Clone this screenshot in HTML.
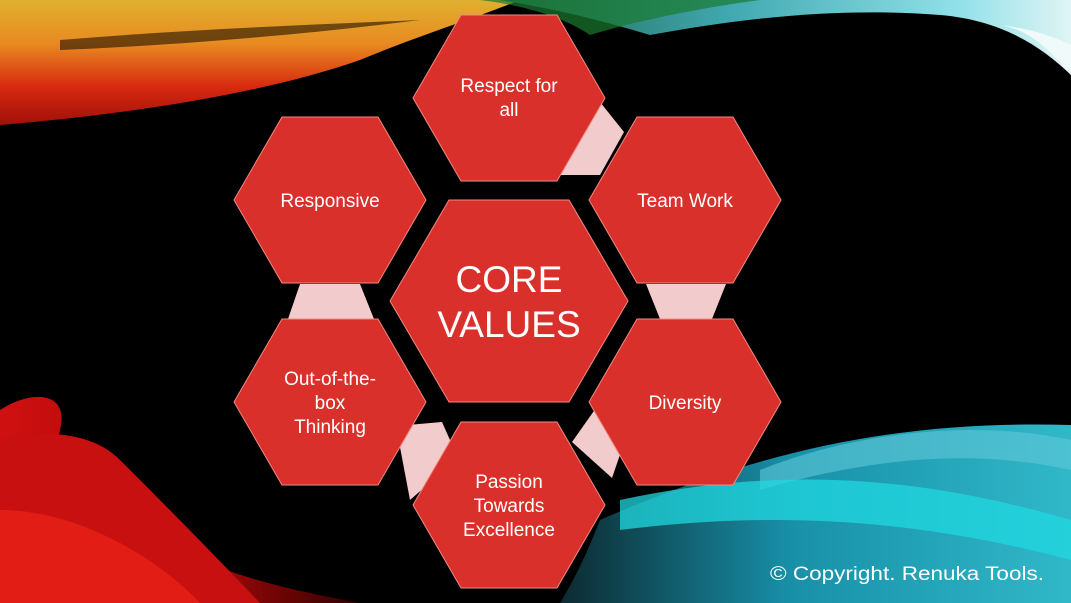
<!DOCTYPE html>
<html><head><meta charset="utf-8">
<style>
html,body{margin:0;padding:0;background:#000;}
svg{display:block;}
text{font-family:"Liberation Sans",sans-serif;fill:#fff;}
</style></head>
<body>
<svg width="1071" height="603" viewBox="0 0 1071 603">
<defs>
<linearGradient id="tl" x1="0" y1="0" x2="0" y2="1">
<stop offset="0" stop-color="#e0b030"/><stop offset="0.35" stop-color="#e88a20"/><stop offset="0.7" stop-color="#d82810"/><stop offset="1" stop-color="#a01008"/>
</linearGradient>
<linearGradient id="tr" x1="0" y1="0" x2="1" y2="0">
<stop offset="0" stop-color="#206048"/><stop offset="0.4" stop-color="#40a8b0"/><stop offset="0.8" stop-color="#90e0e8"/><stop offset="1" stop-color="#e0f4f4"/>
</linearGradient>
<linearGradient id="br" x1="0" y1="0" x2="1" y2="0">
<stop offset="0" stop-color="#0c2a30"/><stop offset="0.45" stop-color="#1890a8"/><stop offset="1" stop-color="#30b8c8"/>
</linearGradient>
<linearGradient id="bl" x1="0" y1="0" x2="1" y2="0">
<stop offset="0" stop-color="#d01010"/><stop offset="0.6" stop-color="#a00808"/><stop offset="1" stop-color="#300000"/>
</linearGradient>
</defs>
<rect width="1071" height="603" fill="#000"/>
<g>
<path d="M0 0 H520 C470 20 420 35 360 60 C260 95 120 115 0 125 Z" fill="url(#tl)"/>
<path d="M60 40 C180 30 300 25 420 20 C300 35 180 45 60 50 Z" fill="#201000" opacity="0.6"/>
<path d="M500 0 H1071 V75 C1040 45 1000 20 940 15 C850 8 760 15 650 35 C600 20 560 10 500 0 Z" fill="url(#tr)"/>
<path d="M480 0 H760 C700 8 640 20 590 35 C560 15 520 5 480 0 Z" fill="#1a7a30" opacity="0.7"/>
<path d="M1071 75 C1050 50 1030 30 1000 25 C1040 30 1060 40 1071 45 Z" fill="#f0fafa"/>
<path d="M600 520 C760 450 900 420 1071 425 V603 H560 C580 570 590 545 600 520 Z" fill="url(#br)"/>
<path d="M760 470 C860 430 980 420 1071 440 V470 C980 450 880 455 760 490 Z" fill="#60c8d8" opacity="0.6"/>
<path d="M620 500 C760 470 900 470 1071 520 V560 C920 520 780 510 620 530 Z" fill="#20d8e0" opacity="0.75"/>
<path d="M0 410 C30 390 70 390 60 430 C50 470 120 520 200 560 C260 585 320 595 360 603 H0 Z" fill="url(#bl)"/>
<path d="M0 440 C40 430 90 430 120 460 C150 490 200 540 260 603 H0 Z" fill="#c81010"/>
<path d="M0 510 C80 510 160 560 200 603 H0 Z" fill="#e82018" opacity="0.8"/>
</g>
<g fill="#f2cccc">
<polygon points="600,102 624,132 600,175 560,175"/>
<polygon points="300,284 360,284 374,319 288,319"/>
<polygon points="646,284 726,284 712,319 660,319"/>
<polygon points="596,408 636,408 612,478 572,442"/>
<polygon points="396,426 442,422 458,458 410,500"/>
</g>
<g fill="#da302c" stroke="#f08a80" stroke-width="1">
<polygon points="413,98 461,15 557,15 605,98 557,181 461,181"/>
<polygon points="589,200 637,117 733,117 781,200 733,283 637,283"/>
<polygon points="234,200 282,117 378,117 426,200 378,283 282,283"/>
<polygon points="390,301 449,200 569,200 628,301 569,402 449,402"/>
<polygon points="589,402 637,319 733,319 781,402 733,485 637,485"/>
<polygon points="234,402 282,319 378,319 426,402 378,485 282,485"/>
<polygon points="413,505 461,422 557,422 605,505 557,588 461,588"/>
</g>
<g font-size="19" text-anchor="middle">
<text x="509" y="92"><tspan x="509">Respect for</tspan><tspan x="509" dy="24">all</tspan></text>
<text x="685" y="207">Team Work</text>
<text x="330" y="207">Responsive</text>
<text x="685" y="409">Diversity</text>
<text x="330" y="385"><tspan x="330">Out-of-the-</tspan><tspan x="330" dy="24">box</tspan><tspan x="330" dy="24">Thinking</tspan></text>
<text x="509" y="488"><tspan x="509">Passion</tspan><tspan x="509" dy="24">Towards</tspan><tspan x="509" dy="24">Excellence</tspan></text>
<text x="509" y="292" font-size="37"><tspan x="509">CORE</tspan><tspan x="509" dy="45">VALUES</tspan></text>
</g>
<text x="770" y="580" font-size="19" textLength="274" lengthAdjust="spacingAndGlyphs">© Copyright. Renuka Tools.</text>
</svg>
</body></html>
